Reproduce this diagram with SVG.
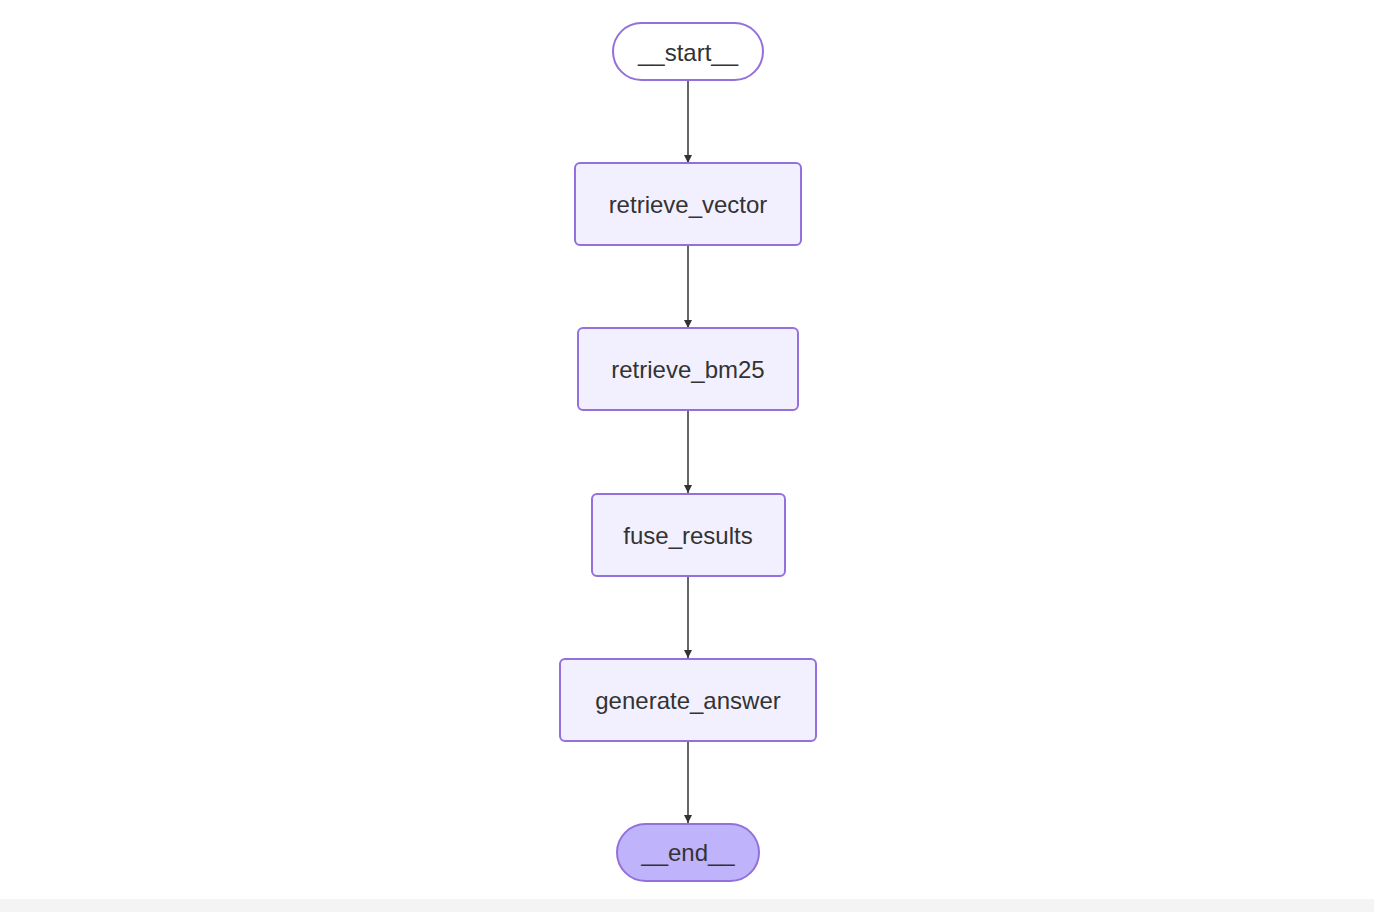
<svg xmlns="http://www.w3.org/2000/svg" width="1374" height="912" viewBox="0 0 1374 912">
<style>
.n{fill:#f2f0ff;stroke:#9370db;stroke-width:2}
.t{font-family:"Liberation Sans",Arial,sans-serif;font-size:24px;fill:#333;text-anchor:middle;dominant-baseline:central}
.e{stroke:#333;stroke-width:1.5;fill:none}
</style>
<defs><marker id="a" viewBox="0 0 10 10" refX="10" refY="5" markerWidth="8" markerHeight="8" markerUnits="userSpaceOnUse" orient="auto"><path d="M0,0L10,5L0,10z" fill="#333"/></marker></defs>
<rect width="1374" height="912" fill="#fff"/>
<rect y="899" width="1374" height="13" fill="#f4f4f4"/>
<g id="connectors">
<path class="e" d="M688,81V163" marker-end="url(#a)"/>
<path class="e" d="M688,246V328" marker-end="url(#a)"/>
<path class="e" d="M688,411V493" marker-end="url(#a)"/>
<path class="e" d="M688,577V658" marker-end="url(#a)"/>
<path class="e" d="M688,742V823" marker-end="url(#a)"/>
</g>
<g id="start"><rect class="n" x="613" y="23" width="150" height="57" rx="28.5" fill="#fff" style="fill:#fff"/><text class="t" x="688" y="52">__start__</text></g>
<g id="retrieve_vector"><rect class="n" x="575" y="163" width="226" height="82" rx="5"/><text class="t" x="688" y="204">retrieve_vector</text></g>
<g id="retrieve_bm25"><rect class="n" x="578" y="328" width="220" height="82" rx="5"/><text class="t" x="688" y="369">retrieve_bm25</text></g>
<g id="fuse_results"><rect class="n" x="592" y="494" width="193" height="82" rx="5"/><text class="t" x="688" y="535">fuse_results</text></g>
<g id="generate_answer"><rect class="n" x="560" y="659" width="256" height="82" rx="5"/><text class="t" x="688" y="700">generate_answer</text></g>
<g id="end"><rect class="n" x="617" y="824" width="142" height="57" rx="28.5" style="fill:#bfb3fb"/><text class="t" x="688" y="852">__end__</text></g>
</svg>
